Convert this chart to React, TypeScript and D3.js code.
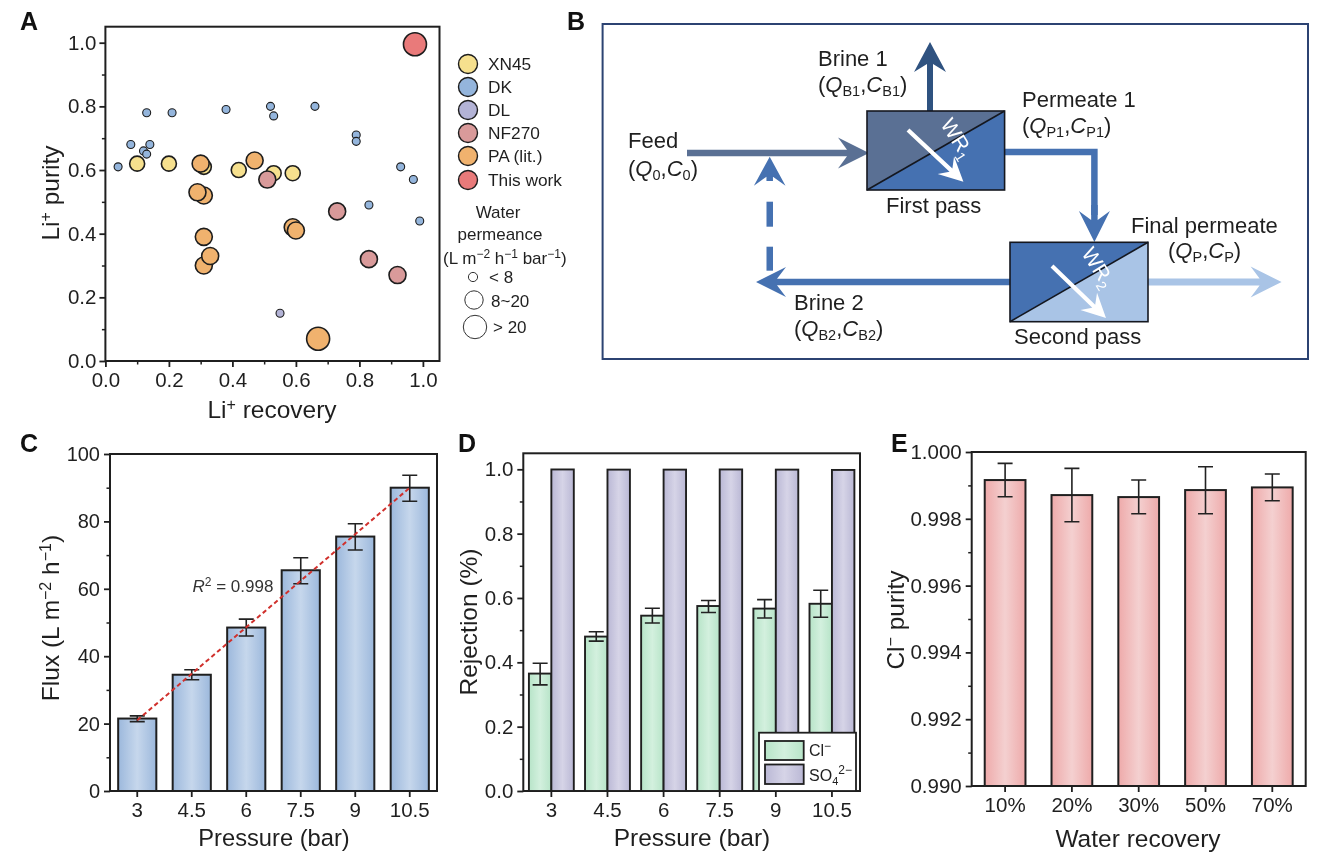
import React, { useEffect, useRef } from "react";
import * as d3 from "d3";

// Panel A
const xn45 = [[0.10,0.62],[0.20,0.62],[0.31,0.61],[0.42,0.60],[0.53,0.59],[0.59,0.59]];
const dk = [[0.04,0.61],[0.08,0.68],[0.12,0.66],[0.13,0.65],[0.14,0.68],[0.13,0.78],[0.21,0.78],[0.38,0.79],[0.52,0.80],[0.53,0.77],[0.66,0.80],[0.79,0.71],[0.79,0.69],[0.93,0.61],[0.97,0.57],[0.83,0.49],[0.99,0.44]];
const dl = [[0.55,0.15]];
const nf270 = [[0.51,0.57],[0.73,0.47],[0.83,0.32],[0.92,0.27]];
const paLit = [[0.31,0.30],[0.33,0.33],[0.31,0.39],[0.31,0.52],[0.29,0.53],[0.30,0.62],[0.47,0.63],[0.59,0.42],[0.60,0.41]];
const paLitLarge = [[0.67,0.07]];
const thisWork = [[0.975,0.995]];
const legendNames = ["XN45","DK","DL","NF270","PA (lit.)","This work"];
const legendColors = ["#f6e08e","#94b5dc","#b3b3d6","#d99a9a","#f0b26e","#e97a7a"];
const sizeLabels = ["< 8","8~20","> 20"];

// Panel C
const pressures = ["3","4.5","6","7.5","9","10.5"];
const flux = [21.5,34.5,48.5,65.5,75.5,90];
const fluxLow = [20.6,33,46,61.5,71.5,86];
const fluxHigh = [22.3,36,51,69.2,79.3,93.7];
const fitEnds = [["3",21],["10.5",90]] as [string, number][];

// Panel D
const cl = [0.365,0.48,0.545,0.575,0.567,0.582];
const clLow = [0.33,0.466,0.522,0.555,0.538,0.54];
const clHigh = [0.397,0.495,0.568,0.592,0.595,0.624];
const so4 = [0.9995,0.999,0.999,0.9995,0.999,0.998];

// Panel E
const recoveries = ["10%","20%","30%","50%","70%"];
const purity = [0.99916,0.99871,0.99865,0.99886,0.99894];
const purityLow = [0.99866,0.99791,0.99815,0.99815,0.99854];
const purityHigh = [0.99966,0.99951,0.99916,0.99956,0.99934];

const FONT = "'Liberation Sans', Arial, sans-serif";
const INK = "#1f1f1f";

type AxisProps = { kind: "left" | "bottom"; scale: any; at: number; ticks: any[]; minor?: any[]; fmt?: (d: any) => string; pad?: number; size?: number };
function Axis({ kind, scale, at, ticks, minor = [], fmt, pad = 4, size = 20.5 }: AxisProps) {
  const major = useRef<SVGGElement>(null);
  const small = useRef<SVGGElement>(null);
  useEffect(() => {
    const make = kind === "left" ? d3.axisLeft : d3.axisBottom;
    const a = make(scale).tickValues(ticks).tickSize(6).tickPadding(pad).tickSizeOuter(0);
    if (fmt) a.tickFormat(fmt);
    const g = d3.select(major.current!).call(a as any);
    g.select(".domain").remove();
    g.selectAll("text").attr("font-size", size).attr("font-family", FONT).attr("fill", INK);
    g.selectAll("line").attr("stroke", INK).attr("stroke-width", 1.8);
    if (minor.length) {
      const b = make(scale).tickValues(minor).tickSize(3.5).tickFormat(() => "").tickSizeOuter(0);
      const m = d3.select(small.current!).call(b as any);
      m.select(".domain").remove();
      m.selectAll("line").attr("stroke", INK).attr("stroke-width", 1.5);
    }
  }, []);
  const t = kind === "left" ? `translate(${at},0)` : `translate(0,${at})`;
  return (<g><g ref={major} transform={t} /><g ref={small} transform={t} /></g>);
}

function Title({ x, y, rot, size = 24.5, children }: any) {
  return (
    <text x={x} y={y} textAnchor="middle" fontSize={size} fill={INK} fontFamily={FONT}
      transform={rot ? `rotate(-90 ${x} ${y})` : undefined}>{children}</text>
  );
}
const Sup = ({ c, s = 16 }: any) => <tspan dy={-8} fontSize={s}>{c}</tspan>;
const Back = ({ c }: any) => <tspan dy={8}>{c}</tspan>;

function ErrorBar({ x, lo, hi, w = 15 }: any) {
  return (
    <path d={`M${x - w / 2},${lo}H${x + w / 2}M${x},${lo}V${hi}M${x - w / 2},${hi}H${x + w / 2}`}
      fill="none" stroke="#222" strokeWidth={1.6} />
  );
}

function Grad({ id, edge, mid }: any) {
  return (
    <linearGradient id={id} x1="0" x2="1" y1="0" y2="0">
      <stop offset="0" stopColor={edge} />
      <stop offset="0.5" stopColor={mid} />
      <stop offset="1" stopColor={edge} />
    </linearGradient>
  );
}

function arrow(x0: number, y0: number, x1: number, y1: number, stem: number, headLen: number, headHalf: number, notch: number) {
  const L = Math.hypot(x1 - x0, y1 - y0);
  const ux = (x1 - x0) / L, uy = (y1 - y0) / L, nx = -uy, ny = ux;
  const p = (along: number, side: number) => [x0 + ux * along + nx * side, y0 + uy * along + ny * side];
  const pts = [p(0, stem / 2), p(L - notch, stem / 2), p(L - headLen, headHalf), p(L, 0), p(L - headLen, -headHalf), p(L - notch, -stem / 2), p(0, -stem / 2)];
  return d3.line()(pts as any) + "Z";
}

function PanelA() {
  const x = d3.scaleLinear().domain([0, 1]).range([105.4, 422.9]);
  const y = d3.scaleLinear().domain([0, 1]).range([361, 42.7]);
  const maj = [0, 0.2, 0.4, 0.6, 0.8, 1];
  const min = [0.1, 0.3, 0.5, 0.7, 0.9];
  const groups: [number[][], string, number][] = [
    [dk, legendColors[1], 4],
    [dl, legendColors[2], 4],
    [xn45, legendColors[0], 7.5],
    [nf270, legendColors[3], 8.5],
    [paLit, legendColors[4], 8.5],
    [paLitLarge, legendColors[4], 11.5],
    [thisWork, legendColors[5], 11.5],
  ];
  return (
    <g>
      <rect x={105.4} y={26.7} width={334.1} height={334.3} fill="none" stroke={INK} strokeWidth={2} />
      {groups.map(([pts, c, r], i) => pts.map((d, j) => (
        <circle key={i + "-" + j} cx={x(d[0])} cy={y(d[1])} r={r} fill={c} stroke="#1d1d1d" strokeWidth={r > 5 ? 1.6 : 1.1} />
      )))}
      <Axis kind="bottom" scale={x} at={361} ticks={maj} minor={min} fmt={d3.format(".1f")} pad={5} />
      <Axis kind="left" scale={y} at={105.4} ticks={maj} minor={min} fmt={d3.format(".1f")} pad={3} />
      <Title x={272} y={418}>Li<Sup c="+" /><Back c=" recovery" /></Title>
      <Title x={59} y={193} rot>Li<Sup c="+" /><Back c=" purity" /></Title>
      {legendNames.map((n, i) => {
        const ly = [64, 87, 110, 133, 156, 180][i];
        return (
          <g key={n}>
            <circle cx={468} cy={ly} r={9.5} fill={legendColors[i]} stroke="#1d1d1d" strokeWidth={1.4} />
            <text x={488} y={ly + 6} fontSize={17.3} fill={INK} fontFamily={FONT}>{n}</text>
          </g>
        );
      })}
      <g fontSize={17} fill={INK} fontFamily={FONT}>
        <text x={498} y={218} textAnchor="middle">Water</text>
        <text x={500} y={240} textAnchor="middle">permeance</text>
        <text x={443} y={264}>(L m<tspan dy={-6} fontSize={12}>−2</tspan><tspan dy={6}> h</tspan><tspan dy={-6} fontSize={12}>−1</tspan><tspan dy={6}> bar</tspan><tspan dy={-6} fontSize={12}>−1</tspan><tspan dy={6}>)</tspan></text>
        {sizeLabels.map((s, i) => (
          <g key={s}>
            <circle cx={[473, 474, 475][i]} cy={[277, 300, 327][i]} r={[4.6, 9.2, 11.7][i]} fill="#fff" stroke="#333" strokeWidth={1} />
            <text x={[489, 491, 493][i]} y={[283, 307, 333][i]}>{s}</text>
          </g>
        ))}
      </g>
    </g>
  );
}

function Diagram() {
  const C1 = "#2f5280", C2 = "#5a7094", C3 = "#4571b1", C4 = "#a9c4e6";
  const small = 14.5;
  const QC = ({ x, y, a, b }: any) => (
    <text x={x} y={y} fontSize={22} fill={INK} fontFamily={FONT}>(<tspan fontStyle="italic">Q</tspan><tspan dy={4} fontSize={small}>{a}</tspan><tspan dy={-4}>,</tspan><tspan fontStyle="italic">C</tspan><tspan dy={4} fontSize={small}>{b}</tspan><tspan dy={-4}>)</tspan></text>
  );
  const L = ({ x, y, children }: any) => <text x={x} y={y} fontSize={22} fill={INK} fontFamily={FONT}>{children}</text>;
  return (
    <g>
      <rect x={602.6} y={24} width={705.4} height={335} fill="#fff" stroke="#2c4372" strokeWidth={2} />
      <path d={arrow(930, 111, 930, 42, 6, 30, 16, 22)} fill={C1} />
      <path d={arrow(687, 153, 869, 153, 6.5, 31, 15.5, 22)} fill={C2} />
      <path d={`M1004.6,152H1094.4V215`} fill="none" stroke={C3} strokeWidth={6.5} />
      <path d={arrow(1094.4, 205, 1094.4, 242, 6.5, 31, 15.5, 22)} fill={C3} />
      <path d={arrow(1012, 282, 756, 282, 6.5, 30, 15, 21)} fill={C3} />
      <path d={arrow(1148, 282, 1281.6, 282, 7, 31, 15.5, 22)} fill={C4} />
      <path d={arrow(769.7, 181, 769.7, 156.7, 6.5, 29, 15.8, 20)} fill={C3} />
      <rect x={766.5} y={201.7} width={6.5} height={25} fill={C3} />
      <rect x={766.5} y={246.7} width={6.5} height={24} fill={C3} />

      <rect x={867} y={111} width={137.6} height={79} fill={C3} />
      <path d="M867,190L867,111L1004.6,111Z" fill={C2} />
      <rect x={867} y={111} width={137.6} height={79} fill="none" stroke="#14171f" strokeWidth={1.6} />
      <path d="M867,190L1004.6,111" stroke="#14171f" strokeWidth={1.6} />
      <path d={arrow(908, 130, 963.4, 181.7, 4.2, 24, 12, 17)} fill="#fff" />

      <rect x={1010} y={242.3} width={138} height={79.4} fill={C4} />
      <path d="M1010,321.7L1010,242.3L1148,242.3Z" fill={C3} />
      <rect x={1010} y={242.3} width={138} height={79.4} fill="none" stroke="#14171f" strokeWidth={1.6} />
      <path d="M1010,321.7L1148,242.3" stroke="#14171f" strokeWidth={1.6} />
      <path d={arrow(1052, 266, 1106, 318, 4.2, 24, 12, 17)} fill="#fff" />

      <text transform="translate(940,124) rotate(58)" fontSize={21} fill="#fff" fontFamily={FONT}>WR<tspan dy={5} fontSize={14}>1</tspan></text>
      <text transform="translate(1081,253) rotate(58)" fontSize={21} fill="#fff" fontFamily={FONT}>WR<tspan dy={5} fontSize={14}>2</tspan></text>

      <L x={818} y={65.7}>Brine 1</L>
      <QC x={818} y={92} a="B1" b="B1" />
      <L x={1022} y={106.7}>Permeate 1</L>
      <QC x={1022} y={133} a="P1" b="P1" />
      <L x={628} y={148}>Feed</L>
      <QC x={628} y={176} a="0" b="0" />
      <L x={886} y={212.7}>First pass</L>
      <L x={1131} y={232.7}>Final permeate</L>
      <QC x={1168} y={258} a="P" b="P" />
      <L x={794} y={310}>Brine 2</L>
      <QC x={794} y={336} a="B2" b="B2" />
      <L x={1014} y={344}>Second pass</L>
    </g>
  );
}

function PanelC() {
  const x = d3.scaleBand().domain(pressures).range([110, 437]).paddingInner(0.3).paddingOuter(0.15);
  const y = d3.scaleLinear().domain([0, 100]).range([791, 454]);
  const cx = (p: string) => x(p)! + x.bandwidth() / 2;
  const fit = d3.line<[string, number]>().x((d) => cx(d[0])).y((d) => y(d[1]));
  return (
    <g>
      <rect x={110} y={454} width={327} height={337} fill="none" stroke={INK} strokeWidth={2} />
      {pressures.map((p, i) => (
        <rect key={p} x={x(p)} y={y(flux[i])} width={x.bandwidth()} height={791 - y(flux[i])} fill="url(#gC)" stroke={INK} strokeWidth={2} />
      ))}
      {pressures.map((p, i) => <ErrorBar key={p} x={cx(p)} lo={y(fluxLow[i])} hi={y(fluxHigh[i])} />)}
      <path d={fit(fitEnds)!} stroke="#d0302c" strokeWidth={2} strokeDasharray="4.5 3" fill="none" />
      <text x={192.5} y={592} fontSize={17} fill="#333" fontFamily={FONT}><tspan fontStyle="italic">R</tspan><tspan dy={-6} fontSize={12}>2</tspan><tspan dy={6}> = 0.998</tspan></text>
      <Axis kind="bottom" scale={x} at={791} ticks={pressures} pad={5} />
      <Axis kind="left" scale={y} at={110} ticks={[0, 20, 40, 60, 80, 100]} minor={[10, 30, 50, 70, 90]} size={20} />
      <Title x={274} y={846} size={23.7}>Pressure (bar)</Title>
      <Title x={59} y={618} rot>Flux (L m<Sup c="−2" /><Back c=" h" /><Sup c="−1" /><Back c=")" /></Title>
    </g>
  );
}

function PanelD() {
  const x = d3.scaleBand().domain(pressures).range([523.3, 860]).paddingInner(0.2).paddingOuter(0.1);
  const y = d3.scaleLinear().domain([0, 1]).range([791, 469.3]);
  const w = x.bandwidth() / 2;
  return (
    <g>
      <rect x={523.3} y={453.3} width={336.7} height={337.7} fill="none" stroke={INK} strokeWidth={2} />
      {pressures.map((p, i) => (
        <g key={p}>
          <rect x={x(p)} y={y(cl[i])} width={w} height={791 - y(cl[i])} fill="url(#gD1)" stroke={INK} strokeWidth={1.9} />
          <rect x={x(p)! + w} y={y(so4[i])} width={w} height={791 - y(so4[i])} fill="url(#gD2)" stroke={INK} strokeWidth={1.9} />
          <ErrorBar x={x(p)! + w / 2} lo={y(clLow[i])} hi={y(clHigh[i])} />
        </g>
      ))}
      <rect x={759} y={732.7} width={97} height={58.3} fill="#fff" stroke={INK} strokeWidth={1.8} />
      <rect x={765} y={741} width={38.7} height={19} fill="url(#gD1)" stroke={INK} strokeWidth={1.8} />
      <rect x={765} y={764.5} width={38.7} height={19.5} fill="url(#gD2)" stroke={INK} strokeWidth={1.8} />
      <text x={809} y={756} fontSize={16} fill={INK} fontFamily={FONT}>Cl<tspan dy={-6} fontSize={12}>−</tspan></text>
      <text x={809} y={780.5} fontSize={16} fill={INK} fontFamily={FONT}>SO<tspan dy={4} fontSize={11}>4</tspan><tspan dy={-11} fontSize={12}>2−</tspan></text>
      <Axis kind="bottom" scale={x} at={791} ticks={pressures} pad={5} />
      <Axis kind="left" scale={y} at={523.3} ticks={[0, 0.2, 0.4, 0.6, 0.8, 1]} minor={[0.1, 0.3, 0.5, 0.7, 0.9]} fmt={d3.format(".1f")} />
      <Title x={692} y={846}>Pressure (bar)</Title>
      <Title x={477} y={622} rot>Rejection (%)</Title>
    </g>
  );
}

function PanelE() {
  const x = d3.scaleBand().domain(recoveries).range([971.7, 1305.7]).paddingInner(0.39).paddingOuter(0.195);
  const y = d3.scaleLinear().domain([0.99, 1]).range([786, 452]);
  const cx = (p: string) => x(p)! + x.bandwidth() / 2;
  return (
    <g>
      <rect x={971.7} y={452} width={334} height={334} fill="none" stroke={INK} strokeWidth={2} />
      {recoveries.map((p, i) => (
        <rect key={p} x={x(p)} y={y(purity[i])} width={x.bandwidth()} height={786 - y(purity[i])} fill="url(#gE)" stroke={INK} strokeWidth={2} />
      ))}
      {recoveries.map((p, i) => <ErrorBar key={p} x={cx(p)} lo={y(purityLow[i])} hi={y(purityHigh[i])} />)}
      <Axis kind="bottom" scale={x} at={786} ticks={recoveries} pad={5} />
      <Axis kind="left" scale={y} at={971.7} ticks={[0.99, 0.992, 0.994, 0.996, 0.998, 1]} minor={[0.991, 0.993, 0.995, 0.997, 0.999]} fmt={d3.format(".3f")} />
      <Title x={1138} y={847}>Water recovery</Title>
      <Title x={904} y={620} rot>Cl<Sup c="−" /><Back c=" purity" /></Title>
    </g>
  );
}

export default function App() {
  const heads: [string, number, number][] = [["A", 20, 30], ["B", 567, 30], ["C", 20, 452], ["D", 458, 452], ["E", 891, 452]];
  return (
    <svg width={1342} height={862} viewBox="0 0 1342 862" style={{ position: "absolute", left: 0, top: 0, background: "#fff", filter: "blur(0.4px)" }} fontFamily={FONT}>
      <defs>
        <Grad id="gC" edge="#9cb8dc" mid="#c6d7ec" />
        <Grad id="gD1" edge="#b7e4c8" mid="#d3f0de" />
        <Grad id="gD2" edge="#bab8d5" mid="#d6d4e7" />
        <Grad id="gE" edge="#eeaaaa" mid="#f4d0d0" />
      </defs>
      <PanelA />
      <Diagram />
      <PanelC />
      <PanelD />
      <PanelE />
      {heads.map(([t, x, y]) => (
        <text key={t} x={x} y={y} fontSize={25} fontWeight="bold" fill="#111" fontFamily={FONT}>{t}</text>
      ))}
    </svg>
  );
}
